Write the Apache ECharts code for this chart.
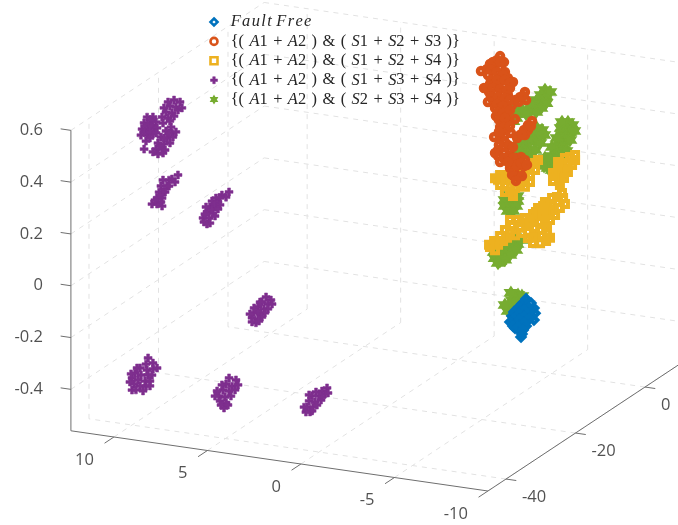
<!DOCTYPE html>
<html><head><meta charset="utf-8">
<style>html,body{margin:0;padding:0;background:#fff}#c{width:678px;height:525px}</style>
<script src="https://cdn.jsdelivr.net/npm/echarts@6/dist/echarts.min.js"></script></head>
<body><div id="c"></div><script>
// axis limits and ticks (data units)
const xLim=[-10,12.3], yLim=[-45.2,10.4], zLim=[-0.56,0.6];
const xTicks=[10,5,0,-5,-10], yTicks=[-40,-20,0], zTicks=[-0.4,-0.2,0,0.2,0.4,0.6];
// series values: [x, z] rows, grouped by depth y
const rightY=0, upperPurpleY=-30, lowerPurpleY=-40;
const faultFree=[[-3.64,-.286],[-3.90,-.299],[-4.06,-.317],[-3.42,-.308],[-3.69,-.317],[-3.90,-.334],[-3.16,-.334],[-3.42,-.339],[-3.69,-.344],[-3.90,-.353],[-2.89,-.360],[-3.16,-.357],[-3.42,-.366],[-3.69,-.371],[-2.89,-.379],[-3.16,-.384],[-3.42,-.393],[-3.64,-.391],[-3.05,-.405],[-3.32,-.413],[-3.42,-.424],
[-3.53,-.299],[-3.80,-.319],[-4.12,-.336],[-3.26,-.321],[-3.53,-.330],[-4.06,-.363],[-2.99,-.343],[-3.26,-.348],[-3.53,-.357],[-3.80,-.362],[-2.99,-.370],[-3.26,-.371],[-3.53,-.380],[-2.78,-.384],[-2.94,-.398],[-3.21,-.399],[-3.48,-.408],[-3.37,-.436]];
const s123=[[-2.25,.637],[-2.09,.620],[-2.46,.616],[-1.23,.569],[-1.71,.601],[-1.55,.580],[-1.93,.588],[-2.25,.591],[-2.51,.578],[-1.60,.557],[-1.93,.557],[-2.25,.553],[-2.67,.557],[-2.94,.544],[-1.39,.505],[-1.71,.524],[-2.09,.524],[-2.46,.527],[-2.78,.519],[-1.66,.492],[-1.98,.492],[-2.35,.496],[-2.67,.491],[-1.60,.453],[-1.87,.464],[-2.25,.464],[-2.51,.459],[-3.58,.512],[-3.32,.490],[-3.05,.476],[-3.64,.482],[-2.89,.455],[-1.98,.434],[-2.25,.429],[-2.51,.439],[-2.03,.403],[-2.35,.403],[-2.62,.421],[-2.41,.384],[-2.67,.387],[-2.25,.363],[-2.57,.355],[-1.93,.321],[-2.25,.332],[-2.51,.335],[-2.83,.346],[-3.96,.404],[-3.74,.386],[-3.53,.365],[-3.32,.344],[-3.16,.330],[-3.58,.346],[-3.05,.402],[-2.67,.298],[-2.41,.288],[-2.14,.273],[-2.78,.280],[-2.46,.265],[-2.14,.250],[-2.78,.257],[-2.51,.239],[-2.25,.228],[-3.10,.253],[-3.37,.259],[-3.58,.250],[-2.89,.231],[-3.21,.231],[-3.53,.226],[-2.99,.205],[-3.32,.205],[-2.89,.185],[-3.21,.180],[-2.78,.210],
[-1.87,.610],[-2.25,.614],[-1.76,.579],[-2.09,.574],[-2.41,.566],[-1.76,.540],[-2.09,.543],[-2.51,.547],[-2.78,.539],[-1.55,.507],[-1.87,.510],[-2.25,.510],[-2.62,.510],[-1.76,.475],[-2.14,.478],[-2.51,.478],[-2.78,.473],[-2.09,.450],[-2.41,.446],[-2.14,.420],[-2.41,.419],[-2.78,.434],[-3.26,.471],[-3.48,.496],[-2.19,.390],[-2.51,.401],[-2.46,.365],[-2.78,.373],[-2.19,.344],[-3.74,.367],[-3.42,.348],[-3.90,.384],[-2.51,.308],[-2.94,.293],[-2.19,.293],[-1.98,.260],[-2.46,.246],[-2.94,.251],[-3.10,.225],[-3.37,.236],[-2.67,.232],[-2.99,.182],[-3.42,.186],[-3.69,.232],[-3.10,.164]];
const s124=[[-4.12,.244],[-3.85,.222],[-4.12,.217],[-3.58,.203],[-3.85,.195],[-3.32,.189],[-3.58,.173],[-3.05,.175],[-3.32,.151],[-2.78,.164],[-3.05,.136],[-2.51,.169],[-2.51,.142],[-2.78,.118],[-2.14,.158],[-2.25,.139],[-6.26,.297],[-5.99,.286],[-6.26,.278],[-5.72,.280],[-5.88,.262],[-5.56,.251],[-5.72,.234],[-5.35,.229],[-5.56,.212],[-5.24,.205],[-5.40,.188],[-5.08,.184],[-5.56,.143],[-5.29,.125],[-5.62,.124],[-5.35,.106],[-5.03,.091],[-4.81,.077],[-4.55,.082],[-4.28,.072],[-5.08,.072],[-4.81,.050],[-4.17,.055],[-5.19,.054],[-3.16,.014],[-2.89,-.008],[-3.42,.008],[-3.69,-.004],[-4.01,.022],[-4.39,.019],[-4.65,.014],[-4.12,-.007],[-3.74,-.027],[-3.32,-.015],[-2.78,-.037],[-3.05,-.046],[-2.62,-.061],[-2.41,-.075],[-2.14,-.093],[-1.98,-.115],[-1.71,-.106],[-4.01,-.066],[-4.39,-.063],[-4.71,-.051],[-4.12,-.038],[-4.49,-.034],[-4.76,-.016],[-3.74,-.050],
[-3.58,.238],[-3.05,.205],[-2.25,.178],[-1.98,.163],[-3.85,.168],[-3.58,.146],[-2.51,.115],[-2.94,.104],[-2.78,.195],[-4.28,.257],[-6.10,.257],[-5.88,.227],[-5.45,.173],[-5.08,.215],[-5.35,.260],[-5.67,.202],[-5.03,.118],[-4.65,.099],[-5.72,.102],[-5.45,.084],[-4.55,.059],[-4.39,.046],[-4.92,.032],[-4.01,.046],[-2.78,.010],[-3.58,.026],[-3.85,.013],[-4.76,0],[-4.39,-.012],[-3.42,-.034],[-2.51,-.032],[-2.25,-.058],[-1.93,-.080],[-1.66,-.098],[-4.92,-.037],[-3.96,-.047]];
const s134Upper=[[9.61,.610],[9.29,.606],[9.83,.585],[9.51,.584],[10.04,.559],[9.72,.559],[10.25,.538],[9.93,.537],[10.20,.515],[11.05,.529],[10.74,.533],[11.21,.505],[10.90,.508],[10.57,.515],[11.32,.480],[11.00,.484],[10.68,.491],[11.38,.456],[11.05,.460],[10.74,.467],[11.11,.436],[11.21,.404],[9.77,.504],[10.04,.486],[9.72,.481],[10.31,.460],[9.99,.459],[9.67,.467],[10.47,.435],[10.15,.435],[10.57,.411],[10.25,.414],[10.47,.393],[10.20,.399],[9.40,.323],[9.56,.294],[10.20,.295],[9.88,.298],[10.31,.271],[9.99,.274],[10.41,.246],[10.09,.250],[10.52,.222],[10.25,.225],[10.79,.196],[10.47,.203],[10.25,.194],[6.67,.286],[7.05,.270],[7.37,.255],[7.58,.241],[7.26,.241],[7.69,.217],[7.37,.220],[7.85,.196],[7.53,.195],[8.06,.171],[7.74,.174],[8.01,.156],[7.69,.155],[4.69,-.099],[4.43,-.108],[4.91,-.120],[4.59,-.124],[5.12,-.141],[4.80,-.146],[5.33,-.166],[5.01,-.167],[5.44,-.187],[5.12,-.188],[5.23,-.204],
[9.93,.599],[10.15,.574],[9.40,.574],[9.61,.548],[9.83,.527],[9.19,.584],[10.84,.520],[11.16,.493],[10.84,.497],[10.52,.493],[11.21,.470],[10.90,.473],[10.57,.473],[10.90,.450],[9.51,.488],[9.88,.480],[10.15,.458],[9.83,.442],[10.09,.412],[10.36,.425],[10.74,.398],[9.72,.304],[9.88,.275],[10.20,.249],[10.36,.236],[10.52,.199],[10.31,.209],[10.63,.213],[6.83,.264],[7.15,.258],[7.47,.227],[7.15,.231],[7.58,.210],[7.26,.214],[7.90,.215],[7.96,.187],[7.42,.185],[7.85,.150],[4.37,-.123],[4.59,-.144],[4.75,-.161],[4.91,-.179],[5.12,-.158],[5.33,-.148],[5.55,-.174],[5.44,-.203],[5.07,-.196],[5.01,-.122]];
const s134Lower=[[9.14,-.292],[8.88,-.309],[9.25,-.317],[9.57,-.335],[9.20,-.339],[8.88,-.332],[9.84,-.358],[9.52,-.362],[9.14,-.358],[10.0,-.378],[9.68,-.383],[9.30,-.383],[9.89,-.400],[9.57,-.405],[9.25,-.402],[10.0,-.425],[4.81,-.324],[4.44,-.328],[4.97,-.349],[4.65,-.354],[5.13,-.374],[4.81,-.375],[5.35,-.399],[5.03,-.400],[5.29,-.418],[4.97,-.422],[5.08,-.443],[-.43,-.308],[-.16,-.323],[.16,-.330],[.37,-.347],[0,-.344],[-.32,-.332],[.53,-.368],[.21,-.369],[-.11,-.358],[.64,-.393],[.32,-.390],[.48,-.410],
[8.93,-.356],[8.66,-.326],[9.04,-.380],[9.73,-.337],[10.05,-.363],[9.79,-.422],[9.41,-.422],[10.11,-.395],[9.04,-.399],[4.33,-.346],[4.49,-.367],[4.71,-.393],[5.19,-.355],[5.45,-.381],[5.56,-.402],[5.24,-.433],[4.87,-.429],[-.48,-.327],[-.16,-.346],[.11,-.380],[.37,-.405],[.70,-.413],[.80,-.395],[.53,-.345]];
const s234=[[-3.21,-.275],[-2.89,-.298],[-3.16,-.303],[-2.73,-.323],[-2.99,-.328],[-2.67,-.343],[-3.42,-.277],[-4.65,.531],[-4.44,.510],[-4.71,.508],[-4.22,.488],[-4.49,.483],[-4.06,.467],[-4.28,.462],[-3.85,.446],[-2.94,.436],[-3.21,.447],[-3.42,.437],[-3.16,.423],[-2.78,.415],[-3.10,.407],[-2.94,.393],[-4.49,.375],[-4.22,.380],[-4.60,.357],[-4.28,.354],[-3.96,.358],[-4.12,.325],[-3.80,.329],[-3.64,.304],[-3.37,.302],[-3.21,.281],[-3.58,.281],[-3.85,.291],[-5.88,.420],[-6.10,.411],[-5.72,.396],[-5.99,.383],[-5.56,.367],[-5.83,.358],[-5.40,.338],[-5.67,.329],[-5.24,.310],[-5.51,.301],[-5.03,.280],[-5.29,.275],[-4.81,.263],[-5.08,.254],[-4.81,.232],[-5.03,.226],[-2.89,.115],[-2.62,.105],[-3.16,.106],[-2.51,.084],[-2.83,.088],[-3.16,.087],[-2.51,.061],[-2.83,.064],[-3.10,.067],[-2.67,.043],[-2.94,.046],[-3.10,-.056],[-2.89,-.074],[-3.16,-.079],[-2.57,-.093],[-2.83,-.098],[-2.30,-.111],[-2.57,-.120],[-2.09,-.129],[-2.35,-.137],[-1.98,-.146],[-2.25,-.154],
[-4.92,.526],[-4.71,.481],[-4.44,.459],[-4.17,.441],[-3.90,.469],[-3.32,.324],[-3.05,.298],[-4.12,.294],[-3.85,.264],[-3.53,.257],[-4.39,.324],[-3.74,.356],[-6.20,.389],[-5.99,.352],[-5.78,.307],[-5.45,.269],[-5.51,.393],[-5.29,.352],[-5.03,.315],[-4.65,.269],[-5.56,.417],[-4.60,.237],[-3.37,-.061],[-3.10,-.103],[-2.78,-.125],[-2.51,-.147],[-2.14,-.163],[-2.67,-.073],[-2.25,-.092],[-1.93,-.123],[-2.51,-.321],[-2.83,-.271],[-3.32,-.309],[-3.64,.428]];
const names=['Fault Free','{( A1 + A2 ) & ( S1 + S2 + S3 )}','{( A1 + A2 ) & ( S1 + S2 + S4 )}','{( A1 + A2 ) & ( S1 + S3 + S4 )}','{( A1 + A2 ) & ( S2 + S3 + S4 )}'];

// orthographic 3-D view onto a hidden 2-D cartesian system
const project=(x,y,z)=>[458-18.7*x+3.475*y, 215-2.7*x-2.3*y-259*z];
const at=(y,rows)=>rows.map(r=>project(r[0],y,r[1]));

const plus='path://M32 0H68V32H100V68H68V100H32V68H0V32H32Z';
const hex='path://M50 0L64.4 25L93.3 25L78.9 50L93.3 75L64.4 75L50 100L35.6 75L6.7 75L21.1 50L6.7 25L35.6 25Z';
const segs=[], axisSegs=[];
const [x0,x1]=xLim,[y0,y1]=yLim,[z0,z1]=zLim;
xTicks.forEach(v=>{segs.push([[v,y0,z0],[v,y1,z0]],[[v,y1,z0],[v,y1,z1]]);});
yTicks.forEach(v=>{segs.push([[x0,v,z0],[x1,v,z0]],[[x1,v,z0],[x1,v,z1]]);});
zTicks.forEach(v=>{segs.push([[x1,y0,v],[x1,y1,v]],[[x1,y1,v],[x0,y1,v]]);});
axisSegs.push([[x1,y0,z0],[x0,y0,z0]],[[x0,y0,z0],[x0,y1,z0]],[[x1,y0,z0],[x1,y0,z1]]);
xTicks.forEach(v=>axisSegs.push([[v,y0,z0],[v,y0-2.7,z0]]));
yTicks.forEach(v=>axisSegs.push([[x0,v,z0],[x0-.55,v,z0]]));
zTicks.forEach(v=>axisSegs.push([[x1,y0,v],[x1+.55,y0,v]]));
const lineSeries=(s,color,dash)=>({type:'line',silent:true,symbol:'none',animation:false,z:dash?1:2,
  lineStyle:{color,width:1,type:dash?[5,5]:'solid'},data:s.map(p=>project(...p))});
const labelSeries=(pts,fmt,align,off)=>({type:'scatter',silent:true,symbolSize:1,animation:false,z:3,itemStyle:{color:'rgba(0,0,0,0)'},
  data:pts.map(p=>({value:project(...p),v:fmt(p)})),
  label:{show:true,position:'inside',align,verticalAlign:'middle',offset:off,color:'#262626',fontFamily:'Open Sans',fontSize:16.5,
    formatter:q=>q.data.v}});
const pointSeries=(name,data,symbol,size,color,hollow,z,bw)=>({name,type:'scatter',data,symbol,symbolSize:size,animation:false,silent:true,z,
  itemStyle:hollow?{color:'none',borderColor:color,borderWidth:bw,opacity:1}:{color,borderColor:color,borderWidth:bw,opacity:1}});

const legendLabel=n=>n==='Fault Free'
  ?'\u2002{i|F\u200Aa\u200Au\u200Al\u200At\u2009\u200AF\u200Ar\u200Ae\u200Ae}'
  :'\u2002'+n.replace(/ /g,' \u200A').replace(/([AS])(\d)/g,'{i|$1}$2');
const legendBorder=[2.6,2.6,2.6,0.5,1.5];

const option={
  animation:false,
  grid:{left:0,right:0,top:0,bottom:0},
  xAxis:{type:'value',min:0,max:678,show:false},
  yAxis:{type:'value',min:0,max:525,inverse:true,show:false},
  legend:{orient:'vertical',left:203,top:9,itemWidth:7,itemHeight:7,itemGap:3.4,selectedMode:false,
    data:names.map((name,i)=>({name,itemStyle:{borderWidth:legendBorder[i]}})),formatter:legendLabel,
    textStyle:{fontFamily:'Liberation Serif',fontSize:16.4,lineHeight:15,color:'#262626',
      rich:{i:{fontFamily:'Liberation Serif',fontStyle:'italic',fontSize:16.4,lineHeight:15,color:'#262626'}}}},
  series:[
    ...segs.map(s=>lineSeries(s,'#e2e2e2',true)),
    ...axisSegs.map(s=>lineSeries(s,'#6e6e6e',false)),
    labelSeries(xTicks.map(v=>[v,y0,z0]),p=>String(p[0]),'right',[-20,23]),
    labelSeries(yTicks.map(v=>[x0,v,z0]),p=>String(p[1]),'left',[16,18]),
    labelSeries(zTicks.map(v=>[x1,y0,v]),p=>String(p[2]),'right',[-28,0]),
    pointSeries(names[4],at(rightY,s234),hex,12,'#77AC30',false,4,1.5),
    pointSeries(names[2],at(rightY,s124),'rect',6,'#EDB120',true,5,4),
    pointSeries(names[1],at(rightY,s123),'circle',6,'#D95319',true,6,4.5),
    pointSeries(names[3],at(upperPurpleY,s134Upper).concat(at(lowerPurpleY,s134Lower)),plus,8,'#7E2F8E',false,7,0.5),
    pointSeries(names[0],at(rightY,faultFree),'diamond',7,'#0072BD',true,8,4)
  ]
};
echarts.init(document.getElementById('c'),null,{renderer:'canvas'}).setOption(option);
</script></body></html>
